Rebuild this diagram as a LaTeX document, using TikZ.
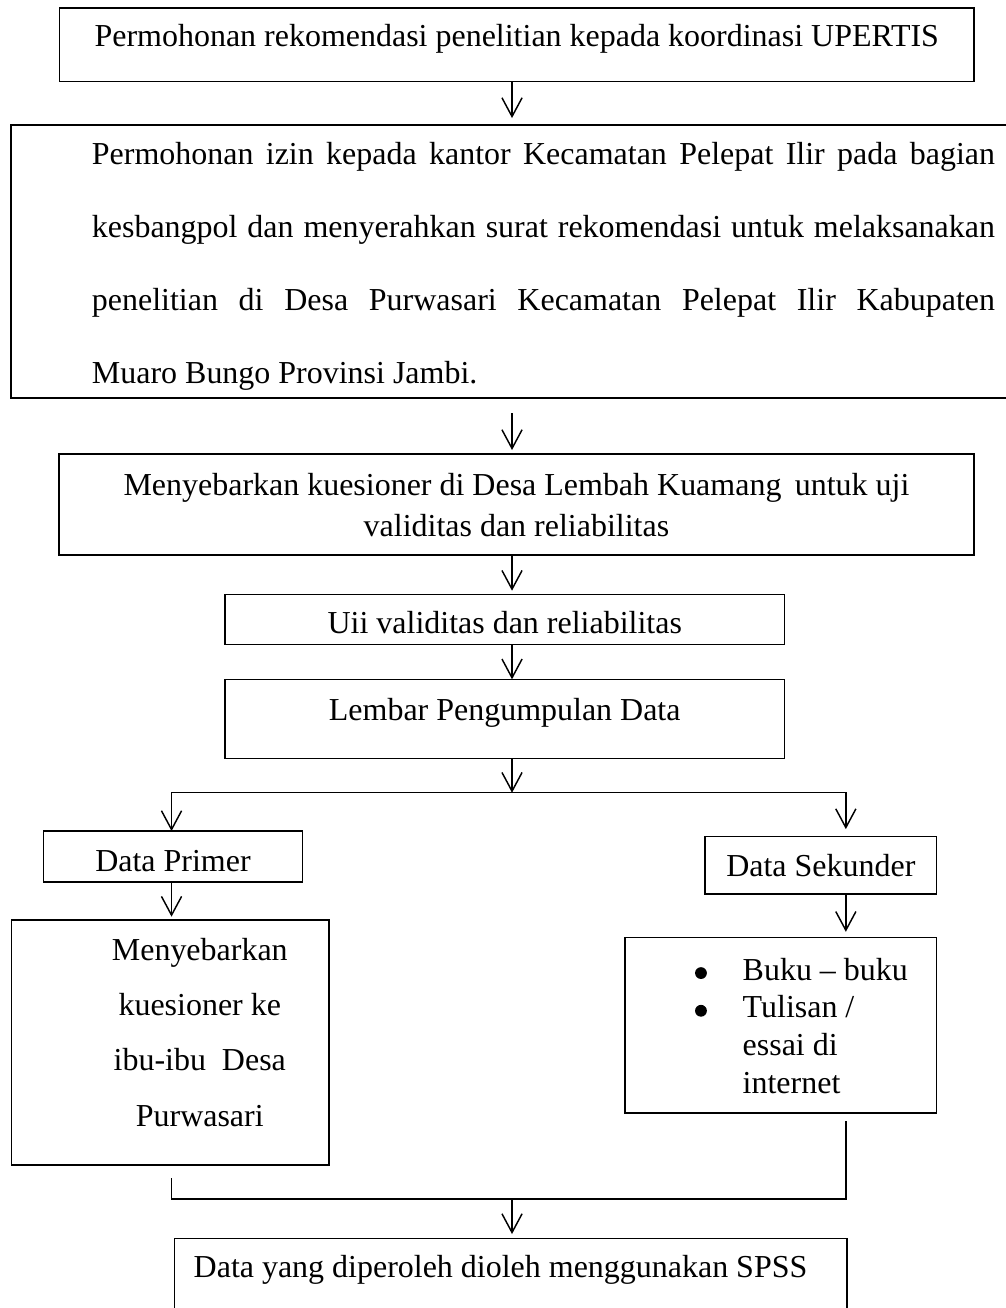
\documentclass[tikz,border=0pt]{standalone}
\usepackage{fontspec}
\setmainfont{Liberation Serif}
\usepackage{tikz}
\usetikzlibrary{positioning, arrows.meta, calc}

\begin{document}
\begin{tikzpicture}[
    node distance=0.5cm and 1cm,
    box/.style={rectangle, draw, line width=0.6pt, inner sep=0pt, outer sep=0pt,
                font=\fontsize{13.1}{15}\selectfont},
    arr/.style={-{Straight Barb[length=0.27cm, width=0.29cm]}, line width=0.6pt},
    line/.style={line width=0.6pt},
]
\useasboundingbox (0,0) rectangle (14.486,-18.835);

% Columns of the connectors
\coordinate (mid) at (7.373,0);
\coordinate (lcol) at (2.470,0);
\coordinate (rcol) at (12.180,0);

% Row 1: recommendation
\node[box, anchor=north, minimum width=13.169cm, text height=0.557cm, text depth=0.504cm]
    (upertis) at (7.441,-0.115) {Permohonan rekomendasi penelitian kepada koordinasi UPERTIS};

% Row 2: permit
\node[box, below=0.624cm of upertis, xshift=0.126cm, text width=14.818cm,
      text height=0.562cm, text depth=3.370cm, font=\fontsize{13.1}{30}\selectfont] (izin)
    {\spaceskip=0pt \xspaceskip=0pt \hyphenpenalty=10000
     \leftskip=1.166cm \rightskip=0.648cm \parfillskip=0pt plus 1fil
     Permohonan izin kepada kantor Kecamatan Pelepat Ilir pada bagian\linebreak
     kesbangpol dan menyerahkan surat rekomendasi untuk melaksanakan\linebreak
     penelitian di Desa Purwasari Kecamatan Pelepat Ilir Kabupaten\linebreak
     Muaro Bungo Provinsi Jambi.\par};

% Row 3: questionnaire test
\node[box, below=0.806cm of izin, xshift=-0.130cm, text width=13.176cm,
      text height=0.590cm, text depth=0.864cm, font=\fontsize{13.1}{17}\selectfont] (sebar)
    {\spaceskip=0pt \xspaceskip=0pt
     \leftskip=0pt plus 1fil \rightskip=0pt plus 1fil \parfillskip=0pt
     Menyebarkan kuesioner di Desa Lembah Kuamang\, untuk uji\par
     validitas dan reliabilitas\par};

% Row 4: validity test
\node[box, below=0.566cm of sebar, xshift=-0.169cm, minimum width=8.057cm,
      text height=0.566cm, text depth=0.154cm] (uji) {Uii validitas dan reliabilitas};

% Row 5: data sheet
\node[box, below=0.504cm of uji, minimum width=8.057cm,
      text height=0.586cm, text depth=0.552cm] (lembar) {Lembar Pengumpulan Data};

% Row 6: data sources
\node[box, below=1.047cm of lembar, xshift=-4.777cm, minimum width=3.735cm,
      text height=0.576cm, text depth=0.158cm] (primer) {Data Primer};
\node[box, below=1.129cm of lembar, xshift=4.552cm, minimum width=3.336cm,
      text height=0.566cm, text depth=0.259cm] (sekunder) {Data Sekunder};

% Row 7: details
\node[box, below=0.547cm of primer, xshift=-0.038cm, text width=4.569cm,
      text height=0.576cm, text depth=2.952cm, font=\fontsize{13.1}{22.7}\selectfont] (ibu)
    {\spaceskip=0pt \xspaceskip=0pt
     \leftskip=0.848cm plus 1fil \rightskip=0pt plus 1fil \parfillskip=0pt
     Menyebarkan\par kuesioner ke\par ibu-ibu~ Desa\par Purwasari\par};
\node[box, below=0.624cm of sekunder, xshift=-0.576cm, text width=4.488cm,
      text height=0.615cm, text depth=1.911cm, font=\fontsize{13.1}{15.45}\selectfont] (buku)
    {\spaceskip=0pt \xspaceskip=0pt \leftskip=1.695cm \rightskip=0pt plus 1fil
     Buku -- buku\\
     Tulisan /\\
     essai di\\
     internet\par};

% List bullets
\foreach \dy in {-0.514,-1.057}
    \fill ($(buku.north west)+(1.094,\dy)$) circle (0.085);

% Row 8: processing
\node[box, below=1.056cm of ibu, xshift=4.902cm, text width=9.683cm,
      text height=0.557cm, text depth=0.864cm] (spss)
    {\spaceskip=0pt \xspaceskip=0pt \leftskip=0.276cm \rightskip=0pt plus 1fil
     Data yang diperoleh dioleh menggunakan SPSS\par};

% Arrows
\draw[arr, shorten >=0.1cm] (upertis.south -| mid) -- (izin.north -| mid);
\draw[arr, shorten <=0.216cm, shorten >=0.058cm] (izin.south -| mid) -- (sebar.north -| mid);
\draw[arr, shorten >=0.052cm] (sebar.south -| mid) -- (uji.north -| mid);
\draw[arr] (uji.south -| mid) -- (lembar.north -| mid);

% Split
\coordinate (split) at ($(lembar.south -| mid)+(0,-0.495)$);
\draw[arr] (lembar.south -| mid) -- (split);
\draw[arr] (split) -| (primer.north -| lcol);
\draw[arr, shorten >=0.11cm] (split) -| (sekunder.north -| rcol);
\draw[arr, shorten >=0.048cm] (primer.south -| lcol) -- (ibu.north -| lcol);
\draw[arr, shorten >=0.08cm] (sekunder.south -| rcol) -- (buku.north -| rcol);

% Join
\coordinate (join) at ($(ibu.south -| mid)+(0,-0.49)$);
\draw[line, shorten <=0.19cm] (ibu.south -| lcol) |- (join);
\draw[line, shorten <=0.12cm] (buku.south -| rcol) |- (join);
\draw[arr, shorten >=0.062cm] (join) -- (spss.north -| mid);

\end{tikzpicture}
\end{document}
